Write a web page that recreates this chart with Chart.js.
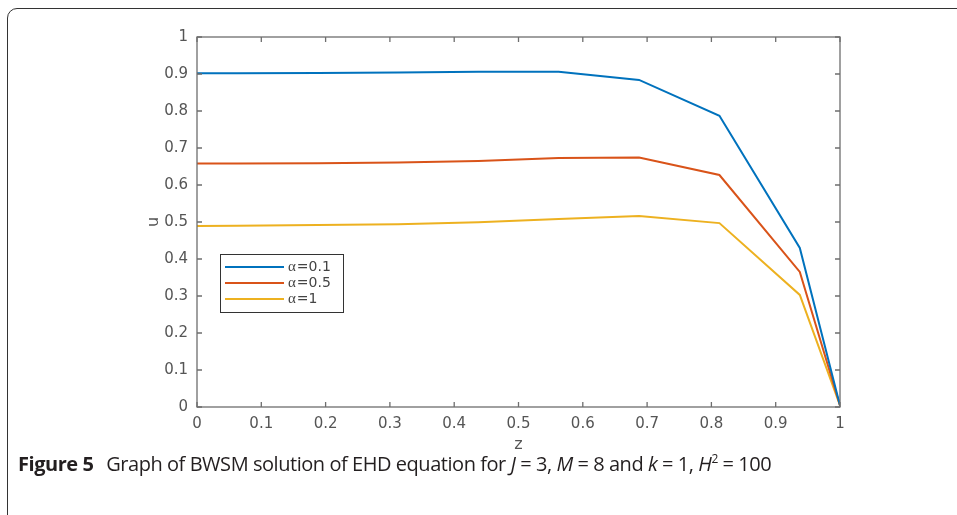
<!DOCTYPE html>
<html>
<head>
<meta charset="utf-8">
<script src="https://cdn.jsdelivr.net/npm/chart.js@4"></script>
<style>
  html, body { margin: 0; padding: 0; background: #fff; }
  body { width: 957px; height: 515px; position: relative; overflow: hidden; }
  #frame {
    position: absolute; left: 7px; top: 8px; width: 1000px; height: 600px;
    border: 1px solid #333; border-radius: 10px; box-sizing: border-box;
  }
  #plot { position: absolute; left: 0; top: 0; }
  #caption {
    position: absolute; left: 18px; top: 450px; white-space: nowrap;
    font-family: "Open Sans", "Noto Sans", sans-serif; font-size: 20px; color: #231f20;
    letter-spacing: -0.45px;
  }
  #caption b { font-weight: 700; margin-right: 8px; }
</style>
</head>
<body>
<div id="frame"></div>
<canvas id="plot" width="957" height="515"></canvas>
<div id="caption"><b>Figure 5</b> Graph of BWSM solution of EHD equation for <i>J</i> = 3, <i>M</i> = 8 and <i>k</i> = 1, <i>H</i><sup style="font-size:12px">2</sup> = 100</div>

<script>
// 資料
const zPts    = [0, 0.0625, 0.1875, 0.3125, 0.4375, 0.5625, 0.6875, 0.8125, 0.9375, 1];
const uA01    = [0.902, 0.902, 0.903, 0.904, 0.906, 0.906, 0.884, 0.787, 0.430, 0.004];
const uA05    = [0.658, 0.658, 0.659, 0.661, 0.665, 0.673, 0.674, 0.627, 0.365, 0.004];
const uA1     = [0.489, 0.490, 0.492, 0.494, 0.499, 0.508, 0.516, 0.497, 0.303, 0.004];
const labels  = ['α=0.1', 'α=0.5', 'α=1'];
const colors  = ['#0072BD', '#D95319', '#EDB120'];
const xTicks  = [0, 0.1, 0.2, 0.3, 0.4, 0.5, 0.6, 0.7, 0.8, 0.9, 1];
const yTicks  = [0, 0.1, 0.2, 0.3, 0.4, 0.5, 0.6, 0.7, 0.8, 0.9, 1];

const AXIS = '#6e6e6e';
const TXT  = '#555';
const FONT = '"DejaVu Sans", Arial, sans-serif';

const series = [uA01, uA05, uA1].map((u, i) => ({
    label: labels[i],
    data: zPts.map((z, k) => ({ x: z, y: u[k] })),
    borderColor: colors[i],
    borderWidth: 2,
    pointRadius: 0,
    tension: 0,
    fill: false
}));

/* ---------- 方框 + 內向刻度 ---------- */
const boxTicks = {
    id: 'boxTicks',
    afterDatasetsDraw(chart) {
        const { ctx, chartArea: a, scales: { x, y } } = chart;
        const L = 5;
        ctx.save();
        ctx.strokeStyle = AXIS;
        ctx.lineWidth = 1.3;
        ctx.strokeRect(a.left, a.top, a.right - a.left, a.bottom - a.top);
        ctx.beginPath();
        xTicks.forEach(v => {
            const px = x.getPixelForValue(v);
            ctx.moveTo(px, a.bottom); ctx.lineTo(px, a.bottom - L);
            ctx.moveTo(px, a.top);    ctx.lineTo(px, a.top + L);
        });
        yTicks.forEach(v => {
            const py = y.getPixelForValue(v);
            ctx.moveTo(a.left, py);  ctx.lineTo(a.left + L, py);
            ctx.moveTo(a.right, py); ctx.lineTo(a.right - L, py);
        });
        ctx.stroke();
        ctx.restore();
    }
};

/* ---------- 圖例（圖內） ---------- */
const innerLegend = {
    id: 'innerLegend',
    afterDraw(chart) {
        const { ctx } = chart;
        const bx = 220, by = 254, bw = 123, bh = 58;
        ctx.save();
        ctx.fillStyle = '#fff';
        ctx.fillRect(bx, by, bw, bh);
        ctx.strokeStyle = '#333';
        ctx.lineWidth = 1;
        ctx.strokeRect(bx + 0.5, by + 0.5, bw, bh);
        chart.data.datasets.forEach((ds, i) => {
            const ly = by + 13 + i * 16;
            ctx.strokeStyle = ds.borderColor;
            ctx.lineWidth = 2;
            ctx.beginPath();
            ctx.moveTo(bx + 5, ly); ctx.lineTo(bx + 64, ly);
            ctx.stroke();
            ctx.fillStyle = '#444';
            ctx.textBaseline = 'middle';
            ctx.font = '15px "Liberation Serif", serif';
            ctx.fillText(ds.label[0], bx + 68, ly);
            const w = ctx.measureText(ds.label[0]).width;
            ctx.font = '14px ' + FONT;
            ctx.fillText(ds.label.slice(1), bx + 68 + w + 1, ly + 0.5);
        });
        ctx.restore();
    }
};

new Chart($('#plot').getContext('2d'), {
    type: 'line',
    data: { datasets: series },
    options: {
        responsive: false,
        animation: false,
        layout: { padding: { left: 0, right: 117, top: 37, bottom: 58 } },
        plugins: { legend: { display: false }, tooltip: { enabled: false } },
        scales: {
            x: {
                type: 'linear', min: 0, max: 1,
                afterBuildTicks: s => { s.ticks = xTicks.map(v => ({ value: v })); },
                afterFit: s => { s.height = 50; },
                grid: { display: false, drawTicks: false },
                border: { display: false },
                ticks: {
                    padding: 8, color: TXT, maxRotation: 0,
                    font: { family: FONT, size: 15 },
                    callback: v => String(v)
                },
                title: {
                    display: true, text: 'z', color: TXT,
                    font: { family: FONT, size: 16 },
                    padding: { top: 0, bottom: 3 }
                }
            },
            y: {
                min: 0, max: 1,
                afterBuildTicks: s => { s.ticks = yTicks.map(v => ({ value: v })); },
                afterFit: s => { s.width = 197; },
                grid: { display: false, drawTicks: false },
                border: { display: false },
                ticks: {
                    padding: 9, color: TXT,
                    font: { family: FONT, size: 15 },
                    callback: v => String(v)
                },
                title: {
                    display: true, text: 'u', color: TXT,
                    font: { family: FONT, size: 16 },
                    padding: { top: 144, bottom: 0 }
                }
            }
        }
    },
    plugins: [boxTicks, innerLegend]
});

function $(sel) { return document.querySelector(sel); }
</script>
</body>
</html>
